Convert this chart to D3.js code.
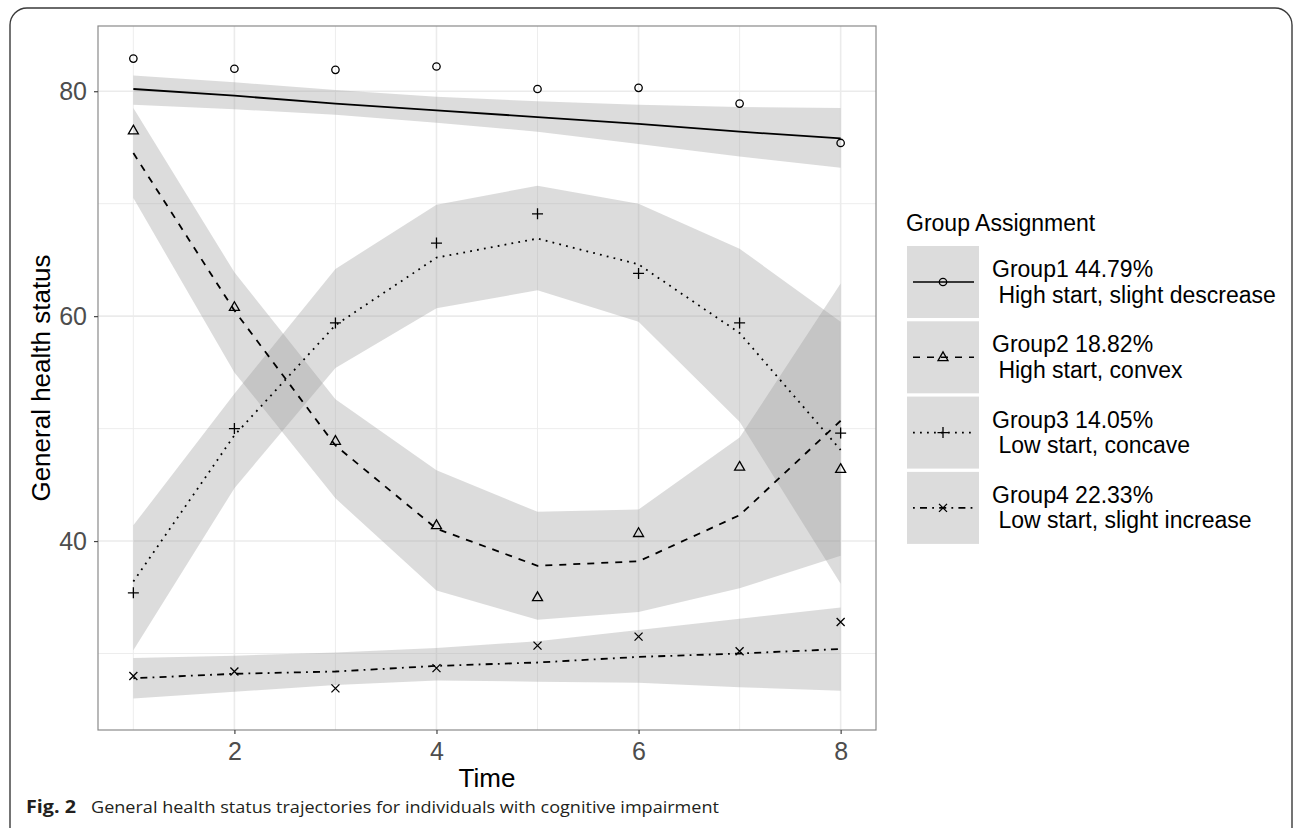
<!DOCTYPE html>
<html>
<head>
<meta charset="utf-8">
<script src="https://cdn.jsdelivr.net/npm/d3@7"></script>
<style>
  body { margin: 0; background: #fff; }
  svg { display: block; }
  text { font-family: "Liberation Sans", Arial, sans-serif; }
</style>
</head>
<body>
<svg></svg>
<script>
const width = 1298;
const height = 828;

// observed time points
const times = [1, 2, 3, 4, 5, 6, 7, 8];

// fitted trajectories
const g1Line = [80.2, 79.6, 78.9, 78.3, 77.7, 77.1, 76.4, 75.8];
const g2Line = [74.5, 60.5, 48.5, 41.1, 37.8, 38.2, 42.3, 50.7];
const g3Line = [36.4, 49.4, 59.2, 65.2, 66.9, 64.6, 58.5, 48.1];
const g4Line = [27.8, 28.2, 28.4, 28.9, 29.2, 29.7, 30.0, 30.4];

// observed means
const g1Obs = [82.9, 82.0, 81.9, 82.2, 80.2, 80.3, 78.9, 75.4];
const g2Obs = [76.5, 60.8, 48.9, 41.4, 35.0, 40.7, 46.6, 46.4];
const g3Obs = [35.4, 50.0, 59.4, 66.5, 69.1, 63.8, 59.4, 49.6];
const g4Obs = [28.0, 28.4, 26.9, 28.7, 30.7, 31.5, 30.2, 32.8];

// confidence bands
const g1Low = [78.8, 78.4, 77.9, 77.2, 76.4, 75.3, 74.2, 73.2];
const g1High = [81.4, 80.8, 80.1, 79.5, 79.1, 78.8, 78.6, 78.5];
const g2Low = [70.5, 55.0, 43.8, 35.6, 33.0, 33.7, 35.8, 38.7];
const g2High = [78.5, 63.9, 52.6, 46.3, 42.6, 42.8, 49.2, 62.9];
const g3Low = [30.3, 44.7, 55.4, 60.7, 62.3, 59.5, 50.6, 36.2];
const g3High = [41.4, 53.1, 64.2, 69.9, 71.6, 70.0, 66.0, 59.5];
const g4Low = [26.0, 26.6, 27.2, 27.6, 27.5, 27.4, 27.0, 26.7];
const g4High = [29.6, 29.8, 30.1, 30.5, 31.1, 32.1, 33.1, 34.1];

const groupTitles = ["Group1 44.79%", "Group2 18.82%", "Group3 14.05%", "Group4 22.33%"];
const groupDescs = [" High start, slight descrease", " High start, convex", " Low start, concave", " Low start, slight increase"];

const xMajor = [2, 4, 6, 8];
const xMinor = [1, 3, 5, 7];
const yMajor = [40, 60, 80];
const yMinor = [30, 50, 70];

const panel = { left: 98, right: 876, top: 26, bottom: 730 };
const gridColor = "#ebebeb";
const ribbonFill = "rgba(153,153,153,0.34)";
const lineW = 1.8;
const dashes = ["none", "7,7", "1.8,5.2", "1.8,5.2,7,5.2"];
const shapes = ["circle", "triangle", "plus", "cross"];

var groups = [
  { line: g1Line, obs: g1Obs, low: g1Low, high: g1High },
  { line: g2Line, obs: g2Obs, low: g2Low, high: g2High },
  { line: g3Line, obs: g3Obs, low: g3Low, high: g3High },
  { line: g4Line, obs: g4Obs, low: g4Low, high: g4High }
];

var svg = d3.select("svg").attr("width", width).attr("height", height);

var x = d3.scaleLinear().domain([0.65, 8.35]).range([panel.left, panel.right]);
var y = d3.scaleLinear().domain([23.2, 85.8]).range([panel.bottom, panel.top]);

// outer frame of the figure
svg.append("rect")
  .attr("x", 10).attr("y", 8)
  .attr("width", 1282).attr("height", 840)
  .attr("rx", 17).attr("ry", 17)
  .style("fill", "none")
  .style("stroke", "#3a3a3a")
  .style("stroke-width", 1.4);

var plot = svg.append("g");

// grid
plot.selectAll(".xminor").data(xMinor).enter().append("line")
  .attr("x1", d => x(d)).attr("x2", d => x(d))
  .attr("y1", panel.top).attr("y2", panel.bottom)
  .style("stroke", gridColor).style("stroke-width", 0.9);
plot.selectAll(".yminor").data(yMinor).enter().append("line")
  .attr("y1", d => y(d)).attr("y2", d => y(d))
  .attr("x1", panel.left).attr("x2", panel.right)
  .style("stroke", gridColor).style("stroke-width", 0.9);
plot.selectAll(".xmajor").data(xMajor).enter().append("line")
  .attr("x1", d => x(d)).attr("x2", d => x(d))
  .attr("y1", panel.top).attr("y2", panel.bottom)
  .style("stroke", gridColor).style("stroke-width", 1.6);
plot.selectAll(".ymajor").data(yMajor).enter().append("line")
  .attr("y1", d => y(d)).attr("y2", d => y(d))
  .attr("x1", panel.left).attr("x2", panel.right)
  .style("stroke", gridColor).style("stroke-width", 1.6);

// ribbons
var area = d3.area()
  .x(d => x(d.t))
  .y0(d => y(d.lo))
  .y1(d => y(d.hi));

groups.forEach(function (g) {
  var pts = times.map((t, i) => ({ t: t, lo: g.low[i], hi: g.high[i] }));
  plot.append("path")
    .attr("d", area(pts))
    .style("fill", ribbonFill);
});

// trajectory lines
var line = d3.line().x(d => x(d.t)).y(d => y(d.v));

groups.forEach(function (g, k) {
  var pts = times.map((t, i) => ({ t: t, v: g.line[i] }));
  plot.append("path")
    .attr("d", line(pts))
    .style("fill", "none")
    .style("stroke", "#000")
    .style("stroke-width", lineW)
    .style("stroke-dasharray", dashes[k]);
});

function drawShape(sel, shape, cx, cy) {
  if (shape == "circle") {
    sel.append("circle").attr("cx", cx).attr("cy", cy).attr("r", 3.7)
      .style("fill", "none").style("stroke", "#000").style("stroke-width", 1.3);
  } else if (shape == "triangle") {
    var p = [[cx, cy - 5.4], [cx + 5, cy + 3.3], [cx - 5, cy + 3.3]];
    sel.append("path").attr("d", "M" + p.join("L") + "Z")
      .style("fill", "none").style("stroke", "#000").style("stroke-width", 1.3);
  } else if (shape == "plus") {
    sel.append("path")
      .attr("d", `M${cx - 5.5},${cy}H${cx + 5.5}M${cx},${cy - 5.5}V${cy + 5.5}`)
      .style("stroke", "#000").style("stroke-width", 1.3);
  } else {
    sel.append("path")
      .attr("d", `M${cx - 4},${cy - 4}L${cx + 4},${cy + 4}M${cx - 4},${cy + 4}L${cx + 4},${cy - 4}`)
      .style("stroke", "#000").style("stroke-width", 1.3);
  }
}

// observed points
groups.forEach(function (g, k) {
  times.forEach(function (t, i) {
    drawShape(plot, shapes[k], x(t), y(g.obs[i]));
  });
});

// panel border
plot.append("rect")
  .attr("x", panel.left).attr("y", panel.top)
  .attr("width", panel.right - panel.left)
  .attr("height", panel.bottom - panel.top)
  .style("fill", "none").style("stroke", "#8a8a8a").style("stroke-width", 1.2);

// axes
var xAxis = svg.append("g")
  .attr("transform", `translate(0,${panel.bottom})`)
  .call(d3.axisBottom(x).tickValues(xMajor).tickSize(4).tickPadding(8).tickSizeOuter(0));
var yAxis = svg.append("g")
  .attr("transform", `translate(${panel.left},0)`)
  .call(d3.axisLeft(y).tickValues(yMajor).tickSize(4).tickPadding(7).tickSizeOuter(0));

[xAxis, yAxis].forEach(function (a) {
  a.select(".domain").remove();
  a.selectAll(".tick line").style("stroke", "#444").style("stroke-width", 1.2);
  a.selectAll(".tick text")
    .style("font-family", "'Liberation Sans', Arial, sans-serif")
    .style("font-size", "25px")
    .style("fill", "#4d4d4d");
});

svg.append("text")
  .attr("x", (panel.left + panel.right) / 2).attr("y", 787)
  .attr("text-anchor", "middle")
  .style("font-size", "26px").style("fill", "#000")
  .text("Time");

svg.append("text")
  .attr("transform", `translate(50,${(panel.top + panel.bottom) / 2}) rotate(-90)`)
  .attr("text-anchor", "middle")
  .style("font-size", "26px").style("fill", "#000")
  .text("General health status");

// legend
var legend = svg.append("g");
legend.append("text")
  .attr("x", 906).attr("y", 231)
  .style("font-size", "23px").style("fill", "#000")
  .text("Group Assignment");

const keyX = 907, keyTop = 246, keySize = 72, keyStep = 75.3;

groupTitles.forEach(function (name, k) {
  var top = keyTop + k * keyStep;
  var cy = top + keySize / 2;
  legend.append("rect")
    .attr("x", keyX).attr("y", top)
    .attr("width", keySize).attr("height", keySize)
    .style("fill", ribbonFill);
  legend.append("line")
    .attr("x1", keyX + 6).attr("x2", keyX + keySize - 5)
    .attr("y1", cy).attr("y2", cy)
    .style("stroke", "#000").style("stroke-width", lineW - 0.2)
    .style("stroke-dasharray", dashes[k]);
  drawShape(legend, shapes[k], keyX + keySize / 2, cy);
  legend.append("text")
    .attr("x", 992).attr("y", cy - 5)
    .style("font-size", "23px").style("fill", "#000")
    .text(name);
  legend.append("text")
    .attr("x", 992).attr("y", cy + 20.5)
    .style("font-size", "23px").style("fill", "#000")
    .style("white-space", "pre")
    .text(groupDescs[k]);
});

// caption
svg.append("text")
  .attr("x", 26).attr("y", 813)
  .attr("textLength", 50).attr("lengthAdjust", "spacingAndGlyphs")
  .style("font-family", "'Open Sans', 'Noto Sans', sans-serif")
  .style("font-weight", "bold").style("font-size", "17px").style("fill", "#231f20")
  .text("Fig. 2");
svg.append("text")
  .attr("x", 91).attr("y", 813)
  .attr("textLength", 628).attr("lengthAdjust", "spacingAndGlyphs")
  .style("font-family", "'Open Sans', 'Noto Sans', sans-serif")
  .style("font-size", "17px").style("fill", "#231f20")
  .text("General health status trajectories for individuals with cognitive impairment");
</script>
</body>
</html>
